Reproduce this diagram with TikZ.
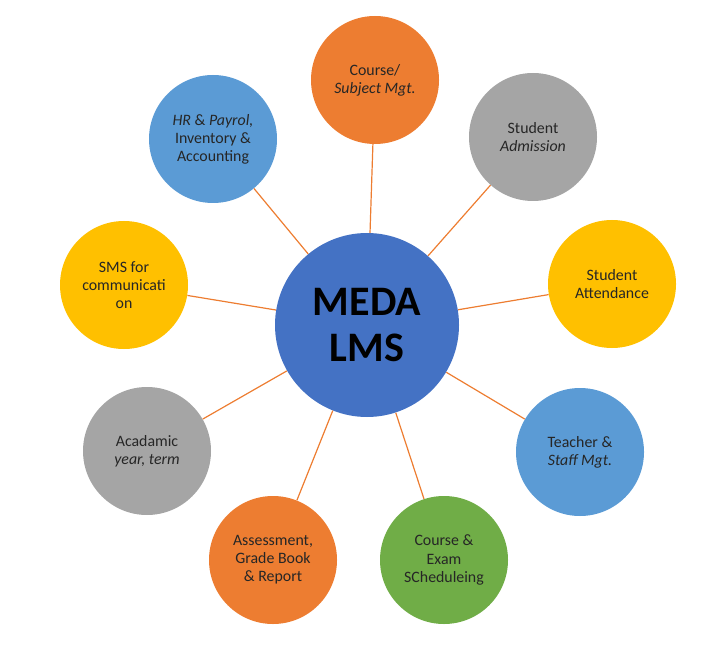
\documentclass[tikz,border=0pt]{standalone}
\usepackage{fontspec}
\setmainfont{Carlito}
\definecolor{lmsblue}{HTML}{4472C4}
\definecolor{lmsorange}{HTML}{ED7D31}
\definecolor{lmsgray}{HTML}{A5A5A5}
\definecolor{lmsyellow}{HTML}{FFC000}
\definecolor{lmslight}{HTML}{5B9BD5}
\definecolor{lmsgreen}{HTML}{70AD47}
\tikzset{
  hub/.style={circle, fill=lmsblue, minimum size=138pt, inner sep=0pt, align=center,
    font=\fontsize{31.5}{34}\selectfont\bfseries},
  module/.style={circle, minimum size=96pt, inner sep=0pt, align=center,
    font=\fontsize{11.9}{13.6}\selectfont, text=black!85},
  link/.style={draw=lmsorange, line width=0.9pt}
}
\begin{document}
\begin{tikzpicture}[x=0.75pt, y=-0.75pt]
    \useasboundingbox (0,0) rectangle (723,648);

    % Centre of the diagram
    \node[hub] (meda) at (367,325) {MEDA\\LMS};

    % Modules around it
    \node[module, fill=lmsorange] (course) at (375,80) {Course/\\\textit{Subject Mgt.}};
    \node[module, fill=lmsgray] (admission) at (533,137) {Student\\\textit{Admission}};
    \node[module, fill=lmsyellow] (attendance) at (612,284) {Student\\Attendance};
    \node[module, fill=lmslight] (teacher) at (580,452) {Teacher \&\\\textit{Staff Mgt.}};
    \node[module, fill=lmsgreen] (exam) at (444,560) {Course \&\\Exam\\SCheduleing};
    \node[module, fill=lmsorange] (grade) at (273,560) {Assessment,\\Grade Book\\\& Report};
    \node[module, fill=lmsgray] (year) at (147,451) {Acadamic\\\textit{year, term}};
    \node[module, fill=lmsyellow] (sms) at (124,285) {SMS for\\communicati\\on};
    \node[module, fill=lmslight] (hr) at (213,139) {\textit{HR} \& \textit{Payrol,}\\Inventory \&\\Accounting};

    % Connectors
    \foreach \m in {course, admission, attendance, teacher, exam, grade, year, sms, hr}
        \draw[link] (meda) -- (\m);
\end{tikzpicture}
\end{document}
